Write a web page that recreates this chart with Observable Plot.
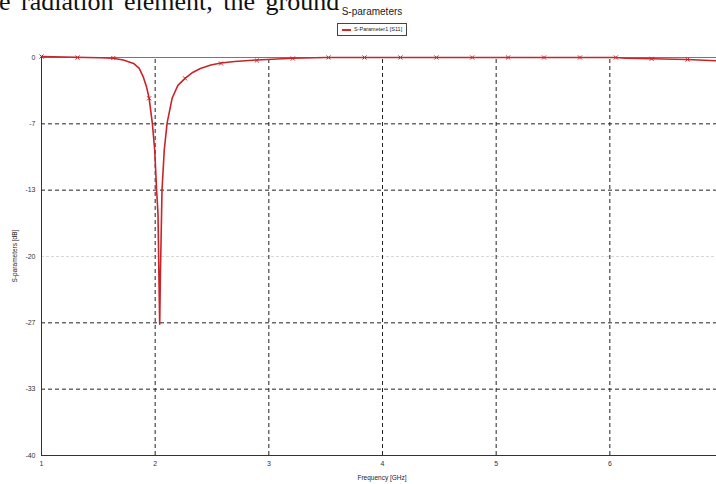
<!DOCTYPE html>
<html>
<head>
<meta charset="utf-8">
<script src="https://cdn.jsdelivr.net/npm/d3@7"></script>
<script src="https://cdn.jsdelivr.net/npm/@observablehq/plot@0.6"></script>
<style>
  html, body { margin: 0; padding: 0; background: #fff; overflow: hidden; }
  #wrap { position: relative; width: 716px; height: 484px; overflow: hidden; font-family: "Liberation Sans", Arial, sans-serif; }
  #wrap svg { position: absolute; left: 0; top: 0; max-width: none !important; width: 730px !important; height: 484px !important; }
  .abs { position: absolute; white-space: nowrap; }
</style>
</head>
<body>
<div id="wrap">
  <div class="abs" id="paper" style="left:-14px; top:-11px; font-family:'Liberation Serif','Times New Roman',serif; font-size:26px; line-height:26px; color:#111; word-spacing:4px;">he radiation element, the ground</div>
  <div class="abs" id="title" style="left:0; width:744px; text-align:center; top:6px; font-size:10px; color:#222;">S-parameters</div>
  <div class="abs" id="legend" style="left:337px; top:23px; width:68px; height:11px; border:1px solid #444; font-size:5.5px; line-height:11px; color:#222;">
    <span style="position:absolute; left:4px; top:5px; width:9px; height:2px; background:#d42a2a;"></span>
    <span style="position:absolute; left:16px; top:0;">S-Parameter1 [S11]</span>
  </div>
  <div class="abs" id="ylab" style="left:14px; top:256px; transform:translate(-50%,-50%) rotate(-90deg); font-size:6.5px; color:#222;">S-parameters [dB]</div>
  <div class="abs" id="xlab" style="left:382px; top:477px; transform:translate(-50%,-50%); font-size:6.5px; color:#222;">Frequency [GHz]</div>
</div>
<script>
// Curve S11 (frequency GHz, dB)
const freq = [1.0, 1.2, 1.4, 1.52, 1.63, 1.72, 1.81, 1.86, 1.897, 1.925, 1.947, 1.975, 1.996, 2.013, 2.025, 2.033, 2.04, 2.046, 2.052, 2.06, 2.08, 2.105, 2.149, 2.2, 2.263, 2.33, 2.398, 2.49, 2.579, 2.7, 2.895, 3.211, 3.5, 4.0, 5.0, 6.05, 6.14, 6.37, 6.68, 6.94, 7.0];
const s11  = [0.1, 0.05, 0.0, -0.02, -0.08, -0.25, -0.6, -1.1, -2.0, -3.0, -4.1, -6.6, -9.3, -13.4, -15.7, -22, -26.8, -21.7, -18.4, -13.4, -9.3, -6.6, -4.1, -2.8, -2.1, -1.5, -1.1, -0.75, -0.55, -0.4, -0.25, -0.08, 0, 0, 0, 0, -0.07, -0.13, -0.2, -0.33, -0.38];
// Sample markers along the curve
const markerFreq = [1.0, 1.316, 1.632, 1.947, 2.263, 2.579, 2.895, 3.211, 3.526, 3.842, 4.158, 4.474, 4.789, 5.105, 5.421, 5.737, 6.053, 6.368, 6.684, 7.0];
const markerDb   = [0.1, 0.0, -0.05, -4.1, -2.1, -0.6, -0.3, -0.1, 0, 0, 0, 0, 0, 0, 0, 0, 0, -0.13, -0.2, -0.4];
// Axis ticks
const yTicks = [0, -40/6, -80/6, -20, -160/6, -200/6, -40];
const yTickLabels = ["0", "-7", "-13", "-20", "-27", "-33", "-40"];
const xTicks = [1, 2, 3, 4, 5, 6];
const xTickLabels = ["1", "2", "3", "4", "5", "6"];

const curve = freq.map((f, i) => ({f, db: s11[i]}));
const markers = markerFreq.map((f, i) => ({f, db: markerDb[i]}));
const darkGrid = [yTicks[1], yTicks[2], yTicks[4], yTicks[5]];
const lightGrid = [yTicks[3]];

const chart = Plot.plot({
  width: 730,
  height: 484,
  marginLeft: 41,
  marginRight: 7,
  marginTop: 57,
  marginBottom: 29,
  style: {fontFamily: "Liberation Sans, Arial, sans-serif", fontSize: "7px", color: "#222", background: "transparent", overflow: "visible", maxWidth: "none"},
  x: {domain: [1, 7]},
  y: {domain: [-40, 0]},
  marks: [
    Plot.ruleY(darkGrid, {stroke: "#222", strokeDasharray: "4,3", strokeWidth: 1}),
    Plot.ruleY(lightGrid, {stroke: "#d8d8d8", strokeDasharray: "3,2", strokeWidth: 1}),
    Plot.ruleX(xTicks.slice(1), {y1: -40, y2: 0, stroke: "#222", strokeDasharray: "4,3", strokeWidth: 1}),
    Plot.ruleY([0], {stroke: "#777", strokeWidth: 1.2}),
    Plot.ruleY([-40], {stroke: "#333", strokeWidth: 1}),
    Plot.ruleX([1], {y1: -40, y2: 0, stroke: "#333", strokeWidth: 1}),
    Plot.axisY({ticks: yTicks, tickFormat: (d, i) => yTickLabels[i], tickSize: 0, tickPadding: 6, label: null, fill: "#333"}),
    Plot.axisX({ticks: xTicks, tickFormat: (d, i) => xTickLabels[i], tickSize: 0, tickPadding: 6, label: null, fill: "#333"}),
    Plot.line(curve, {x: "f", y: "db", stroke: "#c8242a", strokeWidth: 1.6}),
    Plot.dot(markers, {x: "f", y: "db", symbol: "times", r: 2, stroke: "#c8242a", strokeWidth: 1})
  ]
});
document.getElementById("wrap").prepend(chart);
</script>
</body>
</html>
